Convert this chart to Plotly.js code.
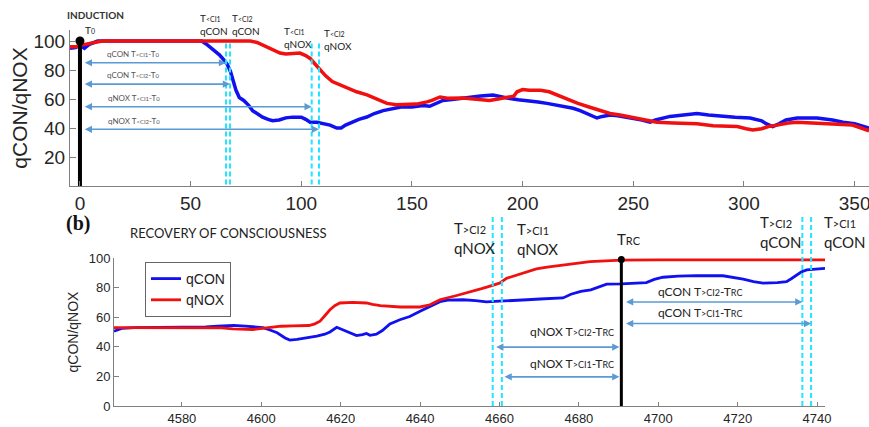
<!DOCTYPE html>
<html>
<head>
<meta charset="utf-8">
<script src="https://cdn.plot.ly/plotly-3.0.1.min.js"></script>
<style>html,body{margin:0;padding:0;background:#fff;}#chart{width:869px;height:427px;}</style>
</head>
<body>
<div id="chart"></div>
<script>
// ---------- DATA ----------
// (a) Induction: time (s) and index values
const indCONx = [-4.5,-2,0,2,4,8,30,55,57,60,63,65,66.5,68,69,70.5,72,74,76,78,80,82.5,85,87,90,93,96,100,102,104,107,110,113,116,118,120,123,126,129.6,133,137,141,145,150,155,158,162,164,170,176,181,186.6,190,193,198,203,207,211,217,222.8,226,229,231,233.6,236,239.5,243,247,251,254,257.6,260,266.6,272,278.8,284,290.5,296,302.8,308,310,313,316,319,324,333,340,344.8,350,353,356.5];
const indCONy = [95,95.5,97,95,97.5,100,100,100,98,94,90.5,87,84,79,73,66,61,59,56,52,50,47.5,46,45,45.5,47,47.5,47.5,46,44,44,43,42,40,40,42,44,46,47.6,50,52,53.5,54.5,54.5,55.5,55,58,59,60,61.4,62,62.8,62,60.7,59.5,59,58,57,55.5,53.6,52,50,48.5,46.9,48,49,48.5,47.6,46.5,45.5,44,45.5,48,49,50,49,48,47.5,46.9,45,43,41,43,45.5,46.9,46.9,45.5,44,43,41.5,40];
const indNOXx = [-4.5,-2,0,3,6,10,30,77,80,82,84.5,87,90.4,93,96,99.4,102,104,106,108.4,111,114,117,120.6,125,129.7,134,138.7,143,147.7,152,156.8,159,162.7,166,173,180,185,189,193,196,197.5,200,203,208,212,216,221,225,230,235,239.5,244,248.5,254,260.7,268,278.8,286,297,301,304,308,311,315,320,324,330,339,345,349,353,356.5];
const indNOXy = [96,96,97,98,99,100,100,100,99,97.5,96,94,91.7,91,91.5,91.7,90,88,84.5,80,76,72,70,67.5,65,62.8,60,57,56,56.5,56.5,58,59,61.4,60.5,60.7,59.5,59,60,61,62,65,66.5,66,66,65,62.5,59,57,54.5,52,50,49,47.6,46,44,43.5,43,41.5,41,39.5,38.6,39.5,41,42,43.5,44,43.5,43,42.5,42,40,38];

// (b) Recovery of consciousness
const recCONx = [4562.9,4565,4568,4575,4586,4589,4593,4596,4598,4600.4,4602,4604,4606,4607.2,4609,4610.5,4612,4614,4616,4617.3,4619,4620.5,4622.5,4624,4625.5,4626.5,4627.4,4629,4630.5,4632.4,4634.9,4637.4,4640,4643.2,4645,4647,4650.8,4654,4656.7,4660,4663.4,4667,4670.2,4674,4676,4678,4680.5,4683,4685.5,4687,4690.7,4694,4697,4699,4701.2,4705,4709.6,4716.3,4719,4721.4,4724,4726.4,4730,4732.3,4733.5,4734.8,4736,4737.4,4739,4742];
const recCONy = [50.5,52.5,53,53,53.5,54,54.5,54,53.7,53,51.5,49.5,46,44.5,45,45.6,46.5,47.2,48.5,50,53.2,51.5,49.5,47.6,48.2,49,47.8,48.5,51,55.5,58.3,60.5,64,68,70.5,71.5,71.8,71.2,70.3,70.8,71.1,71.8,72.3,72.5,73,75.5,77.5,78.5,81,82.3,82.5,82.8,83.4,85.5,87,87.8,88.1,88,87,85.7,84,83,83.3,84,86,88.6,90.5,92,92.5,93];
const recNOXx = [4562.9,4575,4588,4590,4592.8,4597.9,4601.3,4605,4608,4612,4613.5,4614.8,4616,4617.3,4618.5,4619.8,4623,4626.5,4628,4630,4635,4640,4642.5,4645,4649,4653.4,4655.5,4657,4658.5,4660,4661.8,4666,4669.3,4672,4676,4682.8,4690.7,4700,4742];
const recNOXy = [53,53,53.2,52.8,52.1,51.7,52.8,53.9,54.2,54.4,55.5,57.3,61,65,67.8,69.6,70,69.6,68.6,67.8,66.9,66.9,68.4,71.8,74.5,77.4,79.3,80.5,81.5,83,86.3,89.7,92.6,93.8,95.3,97.5,98.5,98.7,98.7];

// event times
const indT0 = 0;
const indCross = [66.0, 67.8, 104.7, 108.0];          // qCON<CI1, qCON<CI2, qNOX<CI1, qNOX<CI2
const recTRC = 4690.7;
const recCross = [4658.3, 4660.6, 4736.3, 4738.5];    // qNOX>CI2, qNOX>CI1, qCON>CI2, qCON>CI1

// ticks
const topXTicks = [0,50,100,150,200,250,300,350];
const topYTicks = [20,40,60,80,100];
const botXTicks = [4580,4600,4620,4640,4660,4680,4700,4720,4740];
const botYTicks = [0,20,40,60,80,100];

// ---------- LAYOUT HELPERS ----------
const W = 869, H = 427;
const px = v => v / W;
const py = v => 1 - v / H;
const BLUE = '#1010f0', RED = '#f01010', CYAN = '#22e4ff', ARROW = '#5b9bd5';
const LATO = 'Lato, "Open Sans", sans-serif';
const ARIAL = '"Liberation Sans", Arial, sans-serif';
const sm = (s, sz) => `<span style="font-size:${sz}px">${s}</span>`;

const traces = [
  {x: indCONx, y: indCONy, xaxis: 'x', yaxis: 'y', mode: 'lines', line: {color: BLUE, width: 3.5}, showlegend: false, name: 'qCON'},
  {x: indNOXx, y: indNOXy, xaxis: 'x', yaxis: 'y', mode: 'lines', line: {color: RED, width: 3.5}, showlegend: false, name: 'qNOX'},
  {x: [indT0, indT0], y: [0, 100], xaxis: 'x', yaxis: 'y', mode: 'lines', line: {color: '#000', width: 4}, showlegend: false, cliponaxis: false},
  {x: [indT0], y: [100], xaxis: 'x', yaxis: 'y', mode: 'markers', marker: {color: '#000', size: 9}, showlegend: false, cliponaxis: false},
  {x: recCONx, y: recCONy, xaxis: 'x2', yaxis: 'y2', mode: 'lines', line: {color: BLUE, width: 2.8}, name: 'qCON'},
  {x: recNOXx, y: recNOXy, xaxis: 'x2', yaxis: 'y2', mode: 'lines', line: {color: RED, width: 2.8}, name: 'qNOX'},
  {x: [recTRC, recTRC], y: [0, 99], xaxis: 'x2', yaxis: 'y2', mode: 'lines', line: {color: '#000', width: 3}, showlegend: false, cliponaxis: false},
  {x: [recTRC], y: [99], xaxis: 'x2', yaxis: 'y2', mode: 'markers', marker: {color: '#000', size: 7}, showlegend: false, cliponaxis: false}
];

const shapes = [];
indCross.forEach(t => shapes.push({type: 'line', xref: 'x', yref: 'y', x0: t, x1: t, y0: 1, y1: 100,
  line: {color: CYAN, width: 2, dash: '5px,3px'}}));
recCross.forEach(t => shapes.push({type: 'line', xref: 'x2', yref: 'paper', x0: t, x1: t, y0: py(406), y1: py(216),
  line: {color: CYAN, width: 2, dash: '5px,3px'}}));

const ann = [];
function arrow(xr, yr, x0, x1, y) {
  ann.push({xref: xr, yref: yr, axref: xr, ayref: yr, x: x1, y: y, ax: x0, ay: y, text: '',
    showarrow: true, arrowhead: 2, startarrowhead: 2, arrowside: 'end+start', arrowsize: 0.9,
    arrowwidth: 1.6, arrowcolor: ARROW, standoff: 0, startstandoff: 0});
}
function label(xr, yr, x, y, text, size, opts) {
  ann.push(Object.assign({xref: xr, yref: yr, x: x, y: y, text: text, showarrow: false,
    xanchor: 'left', yanchor: 'middle', align: 'left',
    font: {family: LATO, size: size, color: '#222'}}, opts || {}));
}

// (a) arrows T0 -> crossings
const indArrowY = [85, 70.3, 54.7, 39.1];
const indArrowLbl = ['qCON T' + sm('&lt;CI1', 6) + '-T' + sm('0', 6),
                     'qCON T' + sm('&lt;CI2', 6) + '-T' + sm('0', 6),
                     'qNOX T' + sm('&lt;CI1', 6) + '-T' + sm('0', 6),
                     'qNOX T' + sm('&lt;CI2', 6) + '-T' + sm('0', 6)];
indCross.forEach((t, i) => {
  arrow('x', 'y', indT0 + 1.5, t, indArrowY[i]);
  label('x', 'y', 24.4, indArrowY[i] + 6, indArrowLbl[i], 8, {xanchor: 'center', font: {family: LATO, size: 8, color: '#555'}});
});

// (a) top labels
label('paper', 'paper', px(65), py(15), '<b>INDUCTION</b>', 10, {font: {family: LATO, size: 10, color: '#333'}});
label('x', 'paper', 1.4, py(30), 'T' + sm('0', 7), 10);
label('x', 'paper', 53.3, py(25), 'T' + sm('&lt;CI1', 7) + '<br>qCON', 10);
label('x', 'paper', 67.6, py(25), 'T' + sm('&lt;CI2', 7) + '<br>qCON', 10);
label('x', 'paper', 91.3, py(37.5), 'T' + sm('&lt;CI1', 7) + '<br>qNOX', 10);
label('x', 'paper', 109.4, py(39.5), 'T' + sm('&lt;CI2', 7) + '<br>qNOX', 10);

// (b) labels
label('paper', 'paper', px(64), py(223), '<b>(b)</b>', 20, {font: {family: '"Liberation Serif", serif', size: 20, color: '#111'}});
label('paper', 'paper', px(128), py(233), 'RECOVERY OF CONSCIOUSNESS', 13);
label('x2', 'paper', 4648, py(238), 'T' + sm('&gt;CI2', 11) + '<br>qNOX', 15);
label('x2', 'paper', 4663.9, py(239), 'T' + sm('&gt;CI1', 11) + '<br>qNOX', 15);
label('x2', 'paper', recTRC, py(239), 'T' + sm('RC', 11), 15, {xanchor: 'center', xshift: 8});
label('x2', 'paper', 4725.1, py(231.5), 'T' + sm('&gt;CI2', 11) + '<br>qCON', 15);
label('x2', 'paper', 4741.2, py(231.5), 'T' + sm('&gt;CI1', 11) + '<br>qCON', 15);

// (b) arrows
arrow('x2', 'y2', recTRC + 0.8, recCross[2], 70.3);
arrow('x2', 'y2', recTRC + 0.8, recCross[3], 55.7);
arrow('x2', 'y2', recCross[0] + 0.5, recTRC - 0.5, 39.8);
arrow('x2', 'y2', recCross[1] + 0.3, recTRC - 0.5, 19.7);
label('x2', 'y2', 4710.5, 77.4, 'qCON T' + sm('&gt;CI2', 9) + '-T' + sm('RC', 9), 12, {xanchor: 'center'});
label('x2', 'y2', 4710.5, 63.1, 'qCON T' + sm('&gt;CI1', 9) + '-T' + sm('RC', 9), 12, {xanchor: 'center'});
label('x2', 'y2', 4678.2, 50.5, 'qNOX T' + sm('&gt;CI2', 9) + '-T' + sm('RC', 9), 12, {xanchor: 'center'});
label('x2', 'y2', 4678.2, 28.9, 'qNOX T' + sm('&gt;CI1', 9) + '-T' + sm('RC', 9), 12, {xanchor: 'center'});

const axBase = {showline: true, linecolor: '#808080', linewidth: 1, ticks: 'inside', tickcolor: '#808080',
  showgrid: false, zeroline: false, fixedrange: true};

const layout = {
  width: W, height: H,
  margin: {l: 0, r: 0, t: 0, b: 0},
  paper_bgcolor: '#fff', plot_bgcolor: 'rgba(0,0,0,0)',
  font: {family: ARIAL, color: '#262626'},
  showlegend: true,
  legend: {x: px(145), y: py(262), xanchor: 'left', yanchor: 'top', bgcolor: '#fff',
    bordercolor: '#666', borderwidth: 1, font: {family: ARIAL, size: 14, color: '#222'},
    itemwidth: 30, tracegroupgap: 0},
  xaxis: Object.assign({}, axBase, {domain: [px(70), 1], range: [-4.5, 356.5], anchor: 'y',
    tickvals: topXTicks, ticklen: 5, ticklabeloverflow: 'allow',
    tickfont: {family: ARIAL, size: 19, color: '#262626'}}),
  yaxis: Object.assign({}, axBase, {domain: [py(186), py(30)], range: [0, 107.6], anchor: 'x',
    tickvals: topYTicks, ticklen: 6, tickfont: {family: ARIAL, size: 19, color: '#262626'},
    title: {text: 'qCON/qNOX', font: {family: ARIAL, size: 21, color: '#262626'}, standoff: 0}}),
  xaxis2: Object.assign({}, axBase, {domain: [px(114), px(825)], range: [4562.9, 4742], anchor: 'y2',
    tickvals: botXTicks, ticklen: 4, tickfont: {family: ARIAL, size: 13, color: '#262626'}}),
  yaxis2: Object.assign({}, axBase, {domain: [py(406), py(258)], range: [0, 100], anchor: 'x2',
    tickvals: botYTicks, ticklen: 5, tickfont: {family: ARIAL, size: 13, color: '#262626'},
    title: {text: 'qCON/qNOX', font: {family: ARIAL, size: 14, color: '#262626'}, standoff: 6}}),
  shapes: shapes,
  annotations: ann
};

Plotly.newPlot('chart', traces, layout, {displayModeBar: false, staticPlot: true});
</script>
</body>
</html>
